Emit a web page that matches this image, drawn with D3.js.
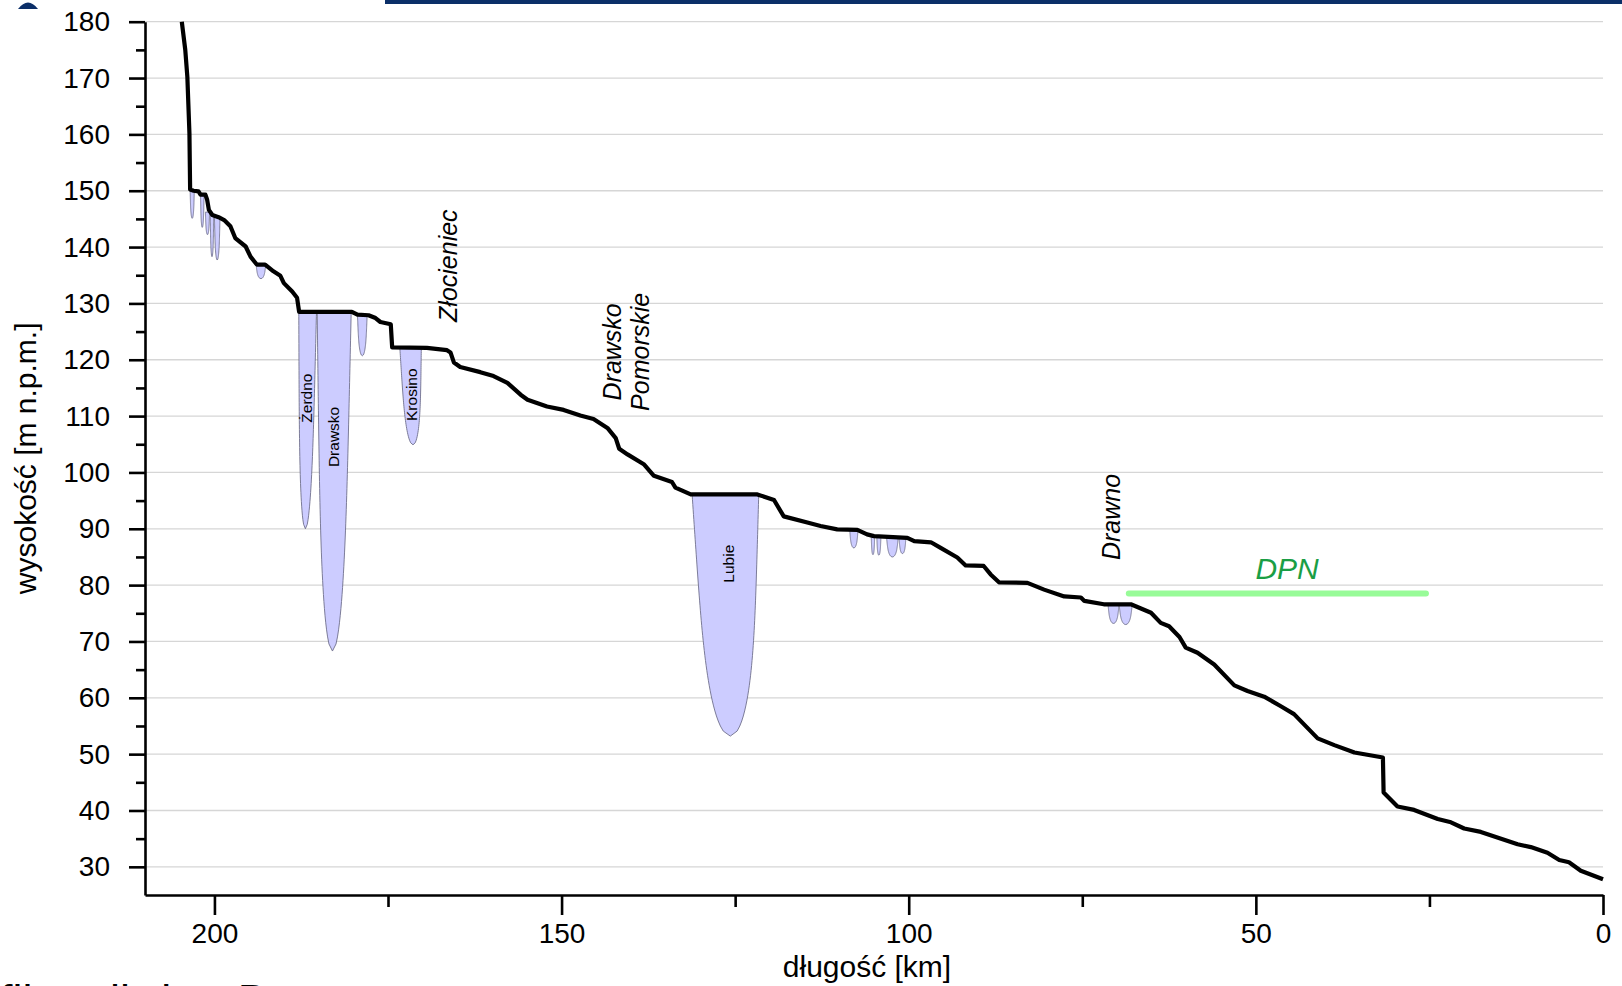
<!DOCTYPE html>
<html>
<head>
<meta charset="utf-8">
<script src="https://cdnjs.cloudflare.com/ajax/libs/d3/7.8.5/d3.min.js"></script>
<style>
  body { margin:0; background:#fff; overflow:hidden; }
  svg { display:block; font-family:"Liberation Sans", Arial, sans-serif; }
  .grid line { stroke:#d6d6d6; stroke-width:1.3; }
  .axis path, .axis line { stroke:#000; stroke-width:2.6; }
  .axis text { font-size:28px; fill:#000; }
  .lake { fill:#ccccff; stroke:#6f6f8c; stroke-width:0.9; }
</style>
</head>
<body>
<div id="chart"></div>
<script>
// longitudinal profile of the river: [km from the mouth, elevation m a.s.l.]
const profile = [
	[204.7,180.0],[204.2,175.0],[203.9,170.2],[203.6,160.2],[203.5,150.2],[203.0,150.0],[202.3,149.9],
	[202.0,149.3],[201.3,149.3],[201.05,148.4],[200.8,146.6],[200.3,145.7],[199.4,145.3],[198.6,144.8],
	[197.7,143.7],[197.0,141.6],[195.5,140.1],[194.8,138.3],[193.9,136.9],[192.7,136.9],[191.5,135.7],
	[190.5,134.9],[190.0,133.6],[188.8,132.1],[188.1,131.0],[187.8,128.5],[180.2,128.5],[179.4,128.0],
	[177.8,127.9],[176.8,127.4],[176.1,126.7],[174.6,126.3],[174.4,122.2],[169.4,122.1],[166.5,121.7],
	[166.0,121.3],[165.5,119.5],[164.6,118.7],[161.7,117.8],[159.8,117.1],[157.8,115.9],[155.9,113.8],
	[154.9,112.9],[152.1,111.7],[149.7,111.1],[147.3,110.1],[145.4,109.5],[143.4,107.9],[142.2,106.1],
	[141.7,104.2],[140.5,103.2],[138.1,101.4],[136.7,99.4],[134.1,98.3],[133.6,97.3],[131.4,96.1],
	[121.8,96.1],[119.4,95.1],[118.0,92.2],[114.6,91.1],[112.7,90.5],[110.3,89.9],[107.4,89.8],
	[106.0,89.0],[105.0,88.7],[100.2,88.4],[99.2,87.8],[96.8,87.6],[95.4,86.6],[93.0,84.9],[91.8,83.5],
	[89.2,83.4],[88.2,81.9],[87.0,80.5],[82.9,80.4],[80.5,79.2],[77.6,78.0],[75.2,77.8],[74.7,77.2],
	[71.9,76.6],[68.0,76.6],[65.1,75.1],[63.7,73.3],[62.5,72.7],[61.0,70.8],[60.1,68.9],[58.4,68.0],
	[56.0,65.9],[53.1,62.2],[51.2,61.2],[48.8,60.2],[46.4,58.5],[44.5,57.1],[41.1,52.8],[38.7,51.6],
	[35.8,50.3],[31.7,49.4],[31.6,43.2],[29.6,40.7],[27.2,40.1],[23.8,38.5],[21.9,37.9],[20.0,36.8],
	[17.6,36.2],[12.3,34.0],[10.4,33.5],[8.0,32.5],[6.3,31.2],[4.9,30.8],[3.2,29.3],[0.0,27.8]
];

// lakes on the river: upstream km, downstream km, km of deepest point, water level, bottom
const lakes = [
	{name:'',        from:203.5, to:202.9, deepKm:203.2, surface:150.0, bottom:145.1},
	{name:'',        from:202.0, to:201.5, deepKm:201.75,surface:149.1, bottom:143.5},
	{name:'',        from:201.3, to:200.7, deepKm:201.0, surface:146.2, bottom:142.2},
	{name:'',        from:200.6, to:200.1, deepKm:200.35,surface:145.6, bottom:138.3},
	{name:'',        from:200.0, to:199.2, deepKm:199.6, surface:145.3, bottom:137.7},
	{name:'',        from:194.0, to:192.6, deepKm:193.3, surface:136.9, bottom:134.4},
	{name:'Żerdno',  from:187.85,to:185.3, deepKm:186.9, surface:128.5, bottom:90.0},
	{name:'Drawsko', from:185.2, to:180.3, deepKm:183.0, surface:128.5, bottom:68.3},
	{name:'',        from:179.4, to:178.0, deepKm:178.7, surface:128.0, bottom:120.7},
	{name:'Krosino', from:173.3, to:170.2, deepKm:171.4, surface:122.2, bottom:104.9},
	{name:'Lubie',   from:131.2, to:121.6, deepKm:125.7, surface:96.1,  bottom:53.2},
	{name:'',        from:108.5, to:107.3, deepKm:107.9, surface:89.8,  bottom:86.6},
	{name:'',        from:105.4, to:104.9, deepKm:105.15,surface:88.7,  bottom:85.4},
	{name:'',        from:104.6, to:104.0, deepKm:104.3, surface:88.7,  bottom:85.3},
	{name:'',        from:103.2, to:101.5, deepKm:102.35,surface:88.5,  bottom:85.0},
	{name:'',        from:101.4, to:100.4, deepKm:100.9, surface:88.5,  bottom:85.6},
	{name:'',        from:71.3,  to:69.7,  deepKm:70.5,  surface:76.6,  bottom:73.2},
	{name:'',        from:69.7,  to:67.8,  deepKm:68.75, surface:76.6,  bottom:73.0}
];

// where the lake names sit (km, elevation of the label centre)
const lakeLabelKm   = {'Żerdno':185.9, 'Drawsko':182.1, 'Krosino':170.8, 'Lubie':125.2};
const lakeLabelElev = {'Żerdno':113.2, 'Drawsko':106.3, 'Krosino':113.8, 'Lubie':83.8};

// towns along the river
const towns = [
	{lines:['Złocieniec'], km:165.0, elev:136.7},
	{lines:['Drawsko','Pomorskie'], km:141.5, elev:121.4},
	{lines:['Drawno'], km:69.5, elev:92.1}
];

// Drawieński Park Narodowy stretch
const dpn = {label:'DPN', from:68.3, to:25.5, elev:78.5, labelKm:45.5, labelElev:81.0};

const xMajor = [200, 150, 100, 50, 0];
const xMinor = [175, 125, 75, 25];
const yMajor = d3.range(30, 181, 10);
const yMinor = d3.range(35, 180, 10);

const W = 1622, H = 986;
const margin = {top:21.7, right:19, bottom:91, left:145};

const svg = d3.select('#chart').append('svg')
	.attr('width', W)
	.attr('height', H);

const x = d3.scaleLinear().domain([210, 0]).range([margin.left, W - margin.right]);
const y = d3.scaleLinear().domain([25, 180]).range([H - margin.bottom, margin.top]);

// page decoration cut off at the edges
svg.append('rect').attr('x', 385).attr('y', 0).attr('width', W - 385).attr('height', 4).attr('fill', '#0b2f68');
svg.append('path').attr('d', 'M18,9 Q28,-4 38,9 Z').attr('fill', '#0b2f68');
svg.append('text')
	.attr('x', -70).attr('y', 1016)
	.style('font-size', '45px')
	.text('Profil podłużny Drawy');

// gridlines
svg.append('g').attr('class', 'grid')
	.selectAll('line').data(yMajor).join('line')
	.attr('x1', x(210)).attr('x2', x(0))
	.attr('y1', d => y(d)).attr('y2', d => y(d));

// lakes hang under the water level
const lakeLine = d3.line().x(d => x(d[0])).y(d => y(d[1]));
function lakeOutline(l){
	const n = 48, half = (l.from - l.to) / 2, mid = (l.from + l.to) / 2;
	let left = [], right = [];
	for (let i = 0; i <= n; i++) {
		const t = i / n;
		const f = (1 - 0.35 * t) * Math.sqrt(Math.max(0, 1 - Math.pow(t, 5)));
		const c = mid + (l.deepKm - mid) * t;
		const e = l.surface - (l.surface - l.bottom) * t;
		left.push([c + half * f, e]);
		right.push([c - half * f, e]);
	}
	return lakeLine(left.concat(right.reverse())) + 'Z';
}

svg.append('g').selectAll('path').data(lakes).join('path')
	.attr('class', 'lake')
	.attr('d', lakeOutline);

svg.append('g').selectAll('text').data(lakes.filter(l => l.name)).join('text')
	.attr('transform', d => `translate(${x(lakeLabelKm[d.name])},${y(lakeLabelElev[d.name])}) rotate(-90)`)
	.attr('text-anchor', 'middle')
	.style('font-size', '15.5px')
	.text(d => d.name);

// the river itself
svg.append('path')
	.datum(profile)
	.attr('fill', 'none')
	.attr('stroke', '#000')
	.attr('stroke-width', 4.2)
	.attr('stroke-linejoin', 'round')
	.attr('d', d3.line().x(d => x(d[0])).y(d => y(d[1])));

// DPN
svg.append('line')
	.attr('x1', x(dpn.from)).attr('x2', x(dpn.to))
	.attr('y1', y(dpn.elev)).attr('y2', y(dpn.elev))
	.attr('stroke', 'palegreen')
	.attr('stroke-width', 6)
	.attr('stroke-linecap', 'round');

svg.append('text')
	.attr('x', x(dpn.labelKm)).attr('y', y(dpn.labelElev))
	.attr('text-anchor', 'middle')
	.style('font-size', '30px').style('font-style', 'italic')
	.attr('fill', '#1a9e45')
	.text(dpn.label);

// towns
const townG = svg.append('g').selectAll('text').data(towns).join('text')
	.attr('transform', d => `translate(${x(d.km)},${y(d.elev)}) rotate(-90)`)
	.attr('text-anchor', 'middle')
	.style('font-size', '25px').style('font-style', 'italic');
townG.selectAll('tspan').data(d => d.lines).join('tspan')
	.attr('x', 0)
	.attr('dy', (d, i) => i ? '1.12em' : 0)
	.text(d => d);

// axes
svg.append('g').attr('class', 'axis')
	.attr('transform', `translate(${margin.left},0)`)
	.call(d3.axisLeft(y).tickValues(yMajor).tickSize(16).tickSizeOuter(0).tickPadding(19));
svg.append('g').attr('class', 'axis')
	.attr('transform', `translate(${margin.left},0)`)
	.call(d3.axisLeft(y).tickValues(yMinor).tickSize(9).tickSizeOuter(0).tickFormat(''))
	.select('.domain').remove();

svg.append('g').attr('class', 'axis')
	.attr('transform', `translate(0,${H - margin.bottom})`)
	.call(d3.axisBottom(x).tickValues(xMajor).tickSize(20).tickSizeOuter(0).tickPadding(8));
svg.append('g').attr('class', 'axis')
	.attr('transform', `translate(0,${H - margin.bottom})`)
	.call(d3.axisBottom(x).tickValues(xMinor).tickSize(12).tickSizeOuter(0).tickFormat(''))
	.select('.domain').remove();

svg.append('text')
	.attr('x', 867).attr('y', 977)
	.attr('text-anchor', 'middle')
	.style('font-size', '30px')
	.text('długość [km]');

svg.append('text')
	.attr('transform', `translate(36,${(y(180) + y(25)) / 2}) rotate(-90)`)
	.attr('text-anchor', 'middle')
	.style('font-size', '30px')
	.text('wysokość [m n.p.m.]');
</script>
</body>
</html>
